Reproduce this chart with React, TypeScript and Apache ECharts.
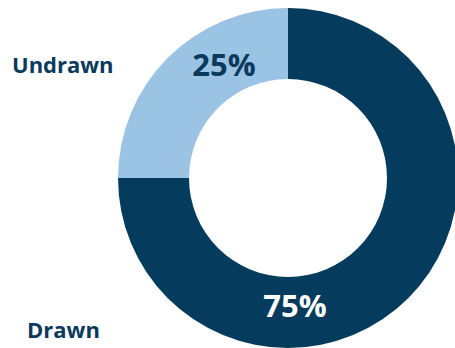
import React, { useEffect, useRef } from "react";
import * as echarts from "echarts";

const categories = ["Drawn", "Undrawn"];
const values = [75, 25];
const colors = ["#053b5c", "#9bc3e3"];
const labelColors = ["#ffffff", "#0b3a5c"];

export default function App() {
  const ref = useRef<HTMLDivElement>(null);
  useEffect(() => {
    document.body.style.margin = "0";
    const chart = echarts.init(ref.current!, null, { renderer: "svg" });
    const labelPos: Record<string, [number, number]> = {
      Drawn: [295, 305],
      Undrawn: [224, 64],
    };
    chart.setOption({
      animation: false,
      backgroundColor: "#ffffff",
      series: [
        {
          type: "pie",
          center: [288, 178],
          radius: [99, 170],
          startAngle: 90,
          clockwise: true,
          silent: true,
          itemStyle: { borderWidth: 0 },
          label: {
            show: true,
            position: "inside",
            formatter: "{c}%",
            fontFamily: "Open Sans",
            fontWeight: "bold",
            fontSize: 31,
          },
          labelLine: { show: false },
          labelLayout: (p: any) => {
            const pos = labelPos[categories[p.dataIndex]];
            return { x: pos[0], y: pos[1], align: "center", verticalAlign: "middle" };
          },
          data: categories.map((name, i) => ({
            name,
            value: values[i],
            itemStyle: { color: colors[i] },
            label: { color: labelColors[i] },
          })),
        },
      ],
      graphic: [
        {
          type: "text",
          x: 12,
          y: 64,
          style: {
            text: categories[1],
            fill: "#0b3a5c",
            font: "bold 22px 'Open Sans'",
            verticalAlign: "middle",
          },
        },
        {
          type: "text",
          x: 27,
          y: 329,
          style: {
            text: categories[0],
            fill: "#0b3a5c",
            font: "bold 22px 'Open Sans'",
            verticalAlign: "middle",
          },
        },
      ],
    });
    return () => chart.dispose();
  }, []);
  return (
    <div
      ref={ref}
      style={{ position: "absolute", left: 0, top: 0, width: 455, height: 348 }}
    />
  );
}
